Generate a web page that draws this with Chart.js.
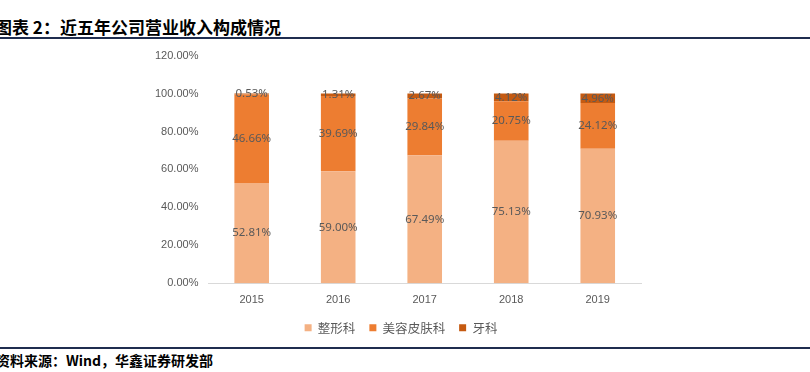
<!DOCTYPE html>
<html><head><meta charset="utf-8">
<script src="https://cdn.jsdelivr.net/npm/chart.js@4"></script>
<style>
body{margin:0;width:810px;height:372px;background:#fff;position:relative;overflow:hidden;font-family:"Noto Sans CJK SC","Noto Sans",sans-serif;}
#title{position:absolute;left:-5px;top:14px;font-size:17px;font-weight:bold;color:#000;white-space:nowrap;font-family:"Noto Sans CJK SC",serif;}
#line1{position:absolute;left:0;top:37px;width:810px;height:2px;background:#1F2D4F;}
#line2{position:absolute;left:0;top:347px;width:810px;height:2px;background:#1F2D4F;}
#foot{position:absolute;left:-4px;top:350px;font-size:14px;font-weight:bold;color:#000;white-space:nowrap;}
#wrap{position:absolute;left:140px;top:39px;width:520px;height:305px;}
</style></head><body>
<div id="title">图表 2：近五年公司营业收入构成情况</div>
<div id="line1"></div>
<div id="wrap"><canvas id="c"></canvas></div>
<div id="line2"></div>
<div id="foot">资料来源：Wind，华鑫证券研发部</div>
<script>
const categories = ["2015","2016","2017","2018","2019"];
const seriesNames = ["整形科","美容皮肤科","牙科"];
const plastic = [52.81, 59.00, 67.49, 75.13, 70.93];
const derma = [46.66, 39.69, 29.84, 20.75, 24.12];
const dental = [0.53, 1.31, 2.67, 4.12, 4.96];
const yTicks = [0,20,40,60,80,100,120];
const colors = ["#F4B183","#ED7D31","#C55A11"];

const labelPlugin = {
  id:'segLabels',
  afterDatasetsDraw(chart){
    const ctx = chart.ctx;
    ctx.save();
    ctx.font = '11.5px "Noto Sans", sans-serif';
    ctx.fillStyle = '#595959';
    ctx.textAlign = 'center';
    ctx.textBaseline = 'middle';
    chart.data.datasets.forEach((ds,di)=>{
      const meta = chart.getDatasetMeta(di);
      meta.data.forEach((bar,i)=>{
        const y = (bar.y + bar.base)/2;
        ctx.fillText(ds.data[i].toFixed(2)+'%', bar.x, y);
      });
    });
    ctx.restore();
  }
};

const legendNudge = {
  id:'legendNudge',
  beforeInit(chart){
    const l = chart.legend;
    if(!l) return;
    const f = l.fit.bind(l);
    l.fit = function(){ f(); this.height -= 9; };
  },
  afterLayout(chart){
    const l = chart.legend;
    if(!l) return;
    l.top -= 9; l.bottom -= 9; l.left += 8; l.right += 8;
  }
};

new Chart(document.getElementById('c'),{
  type:'bar',
  data:{
    labels:categories,
    datasets:[plastic,derma,dental].map((d,i)=>({
      label:seriesNames[i], data:d, backgroundColor:colors[i],
      borderWidth:0,
      barPercentage:0.40, categoryPercentage:1
    }))
  },
  options:{
    responsive:true, maintainAspectRatio:false, animation:false,
    layout:{padding:{left:5,right:19,top:1,bottom:0}},
    plugins:{
      legend:{position:'bottom',labels:{boxWidth:7,boxHeight:7,color:'#595959',font:{size:12.5,family:'"Noto Sans CJK SC"'},padding:14}},
      tooltip:{enabled:false}
    },
    scales:{
      x:{stacked:true,grid:{display:false,drawTicks:false},border:{color:'#D9D9D9'},
         ticks:{color:'#595959',font:{size:11},padding:10}},
      y:{stacked:true,min:0,max:120,afterBuildTicks(s){s.ticks=yTicks.map(v=>({value:v}));},
         grid:{display:false,drawTicks:false},border:{display:false},
         ticks:{color:'#595959',font:{size:11},padding:10,callback:v=>v.toFixed(2)+'%'}}
    }
  },
  plugins:[labelPlugin, legendNudge]
});
</script>
</body></html>
